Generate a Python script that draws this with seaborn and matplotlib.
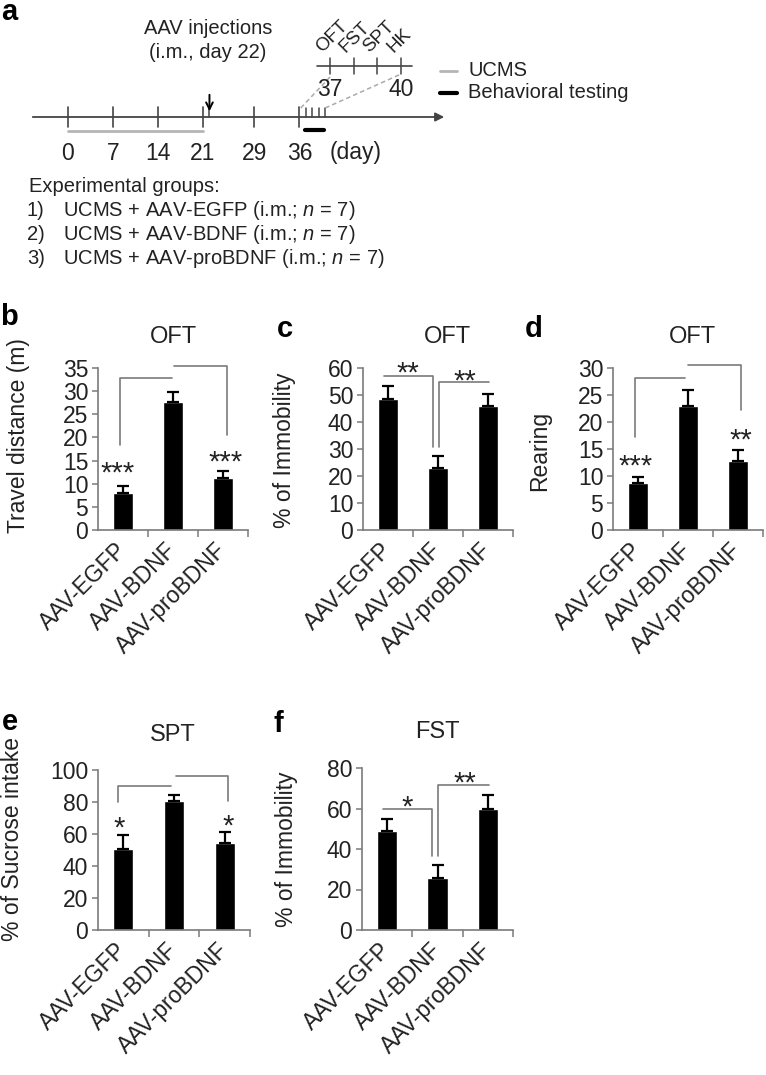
import numpy as np
import pandas as pd
import matplotlib
matplotlib.use("Agg")
import matplotlib.pyplot as plt
import seaborn as sns

# Bar data (mean and upper SEM)
groups = ["AAV-EGFP", "AAV-BDNF", "AAV-proBDNF"]
oft_distance = [7.9, 27.7, 11.3]
oft_distance_sem = [1.6, 2.1, 1.4]
oft_immobility = [48.6, 23.1, 45.8]
oft_immobility_sem = [4.8, 4.4, 4.6]
oft_rearing = [8.7, 23.0, 12.8]
oft_rearing_sem = [1.2, 3.0, 2.0]
spt_sucrose = [50.4, 80.6, 54.2]
spt_sucrose_sem = [9.0, 3.8, 6.8]
fst_immobility = [48.7, 25.9, 60.0]
fst_immobility_sem = [6.1, 6.3, 6.5]

# Timeline (panel a)
timeline_days = [0, 7, 14, 21, 29, 36]
injection_day = 22
test_days = [37, 38, 39, 40]
test_names = ["OFT", "FST", "SPT", "HK"]
ucms_days = [0, 21]
group_lines = ["UCMS + AAV-EGFP (i.m.; $n$ = 7)",
               "UCMS + AAV-BDNF (i.m.; $n$ = 7)",
               "UCMS + AAV-proBDNF (i.m.; $n$ = 7)"]

sns.set_style("ticks")
plt.rcParams["font.family"] = ["Liberation Sans", "DejaVu Sans"]
plt.rcParams["mathtext.fontset"] = "custom"
plt.rcParams["mathtext.it"] = "Liberation Sans:italic"
plt.rcParams["mathtext.rm"] = "Liberation Sans"

W, H = 766, 1075
fig = plt.figure(figsize=(W / 100, H / 100), dpi=100)
txt = "#222222"
axc = "#7a7a7a"

# overlay axes in pixel coordinates for panel a and letters
ax0 = fig.add_axes([0, 0, 1, 1], zorder=-1)
ax0.set_xlim(0, W)
ax0.set_ylim(H, 0)
ax0.axis("off")


def dx(day):
    return 68 + 6.43 * day


def ix(day):
    return 330 + (day - 37) * 23.7


tl = "#444444"
ax0.annotate("", xy=(447, 117), xytext=(30, 117),
             arrowprops=dict(arrowstyle="-|>", color=tl, lw=1.3, mutation_scale=13))
for d in timeline_days:
    ax0.plot([dx(d), dx(d)], [107, 127], color=tl, lw=1.2)
    ax0.text(dx(d), 153, str(d), ha="center", va="center", fontsize=16.5, color=txt)
ax0.text(330, 153, "(day)", ha="left", va="center", fontsize=16.5, color=txt)
for d in [injection_day] + test_days:
    ax0.plot([dx(d), dx(d)], [108, 117], color=tl, lw=1.1)
ax0.plot([dx(ucms_days[0]), dx(ucms_days[1])], [131, 131], color="#b5b5b5", lw=2)
ax0.plot([dx(test_days[0]) - 1, dx(test_days[-1]) - 1], [130, 130], color="black", lw=3)
ax0.annotate("", xy=(dx(injection_day), 114), xytext=(dx(injection_day), 92),
             arrowprops=dict(arrowstyle="->", color="black", lw=1.4, mutation_scale=12))
ax0.text(208, 28, "AAV injections", ha="center", va="center", fontsize=14.5, color=txt)
ax0.text(208, 53, "(i.m., day 22)", ha="center", va="center", fontsize=14.5, color=txt)

# inset of testing days
ax0.plot([317, 412], [66, 66], color=tl, lw=1.2)
for d, name in zip(test_days, test_names):
    ax0.plot([ix(d), ix(d)], [58, 74], color=tl, lw=1.1)
    ax0.text(ix(d) - 5, 56, name, rotation=45, ha="left", va="bottom",
             rotation_mode="anchor", fontsize=13.5, color=txt)
ax0.text(ix(37), 90, "37", ha="center", va="center", fontsize=16.5, color=txt)
ax0.text(ix(40), 90, "40", ha="center", va="center", fontsize=16.5, color=txt)
ax0.plot([dx(36.2), ix(37)], [108, 77], color="#aaaaaa", lw=1.1, ls=(0, (3, 2)))
ax0.plot([dx(40), ix(40)], [108, 74], color="#aaaaaa", lw=1.1, ls=(0, (3, 2)))

# legend
ax0.plot([440, 457], [71, 71], color="#b5b5b5", lw=2)
ax0.plot([440, 457], [93, 93], color="black", lw=3)
ax0.text(468, 71, "UCMS", ha="left", va="center", fontsize=14.5, color=txt)
ax0.text(468, 93, "Behavioral testing", ha="left", va="center", fontsize=14.5, color=txt)

# experimental groups
ax0.text(29, 187, "Experimental groups:", ha="left", va="center", fontsize=14.5, color=txt)
for i, line in enumerate(group_lines):
    y = 211 + 24 * i
    ax0.text(27, y, f"{i + 1})", ha="left", va="center", fontsize=14.5, color=txt)
    ax0.text(63, y, line, ha="left", va="center", fontsize=14.5, color=txt)

# panel letters
for letter, x, y in [("a", 1, 20), ("b", 0, 325), ("c", 277, 337), ("d", 525, 337),
                     ("e", 2, 730), ("f", 273, 732)]:
    ax0.text(x, y, letter, ha="left", va="baseline", fontsize=21, fontweight="bold",
             color="black")

panels = [
    dict(rect=(98, 368, 248, 530), vals=oft_distance, sem=oft_distance_sem, top=35, step=5,
         ylabel="Travel distance (m)", lab=(-0.53, 0.58), title="OFT", tpos=(0.5, 1.19),
         brackets=[[(-0.07, 18.3), (-0.07, 32.8), (0.97, 32.8)],
                   [(1.02, 35.5), (2.08, 35.5), (2.08, 20.6)]],
         stars=[("***", -0.1, 14.1), ("***", 2.06, 16.5)]),
    dict(rect=(363, 368, 513, 530), vals=oft_immobility, sem=oft_immobility_sem, top=60, step=10,
         ylabel="% of Immobility", lab=(-0.52, 0.49), title="OFT", tpos=(0.56, 1.19),
         brackets=[[(-0.08, 57.2), (0.9, 57.2), (0.9, 30.9)],
                   [(1.02, 30.9), (1.02, 55.0), (2.02, 55.0)]],
         stars=[("**", 0.4, 61.2), ("**", 1.54, 58.3)]),
    dict(rect=(613, 368, 763, 530), vals=oft_rearing, sem=oft_rearing_sem, top=30, step=5,
         ylabel="Rearing", lab=(-0.49, 0.49), title="OFT", tpos=(0.53, 1.19),
         brackets=[[(-0.06, 17.3), (-0.06, 28.1), (0.94, 28.1)],
                   [(1.0, 30.6), (2.06, 30.6), (2.06, 22.3)]],
         stars=[("***", -0.04, 13.3), ("**", 2.05, 18.2)]),
    dict(rect=(98, 770, 250, 930), vals=spt_sucrose, sem=spt_sucrose_sem, top=100, step=20,
         ylabel="% of Sucrose intake", lab=(-0.56, 0.57), title="SPT", tpos=(0.49, 1.22),
         brackets=[[(-0.1, 80.2), (-0.1, 90.0), (0.95, 90.0)],
                   [(1.03, 96.2), (2.06, 96.2), (2.06, 80.6)]],
         stars=[("*", -0.08, 68.7), ("*", 2.06, 69.8)]),
    dict(rect=(362, 768, 513, 930), vals=fst_immobility, sem=fst_immobility_sem, top=80, step=20,
         ylabel="% of Immobility", lab=(-0.5, 0.5), title="FST", tpos=(0.5, 1.22),
         brackets=[[(-0.08, 59.8), (0.9, 59.8), (0.9, 36.3)],
                   [(1.0, 36.3), (1.0, 71.6), (2.02, 71.6)]],
         stars=[("*", 0.4, 64.7), ("**", 1.55, 76.7)]),
]

for p in panels:
    l, t, r, b = p["rect"]
    ax = fig.add_axes([l / W, 1 - b / H, (r - l) / W, (b - t) / H])
    df = pd.DataFrame({"group": groups, "value": p["vals"]})
    sns.barplot(data=df, x="group", y="value", color="black", saturation=1,
                width=0.4, errorbar=None, ax=ax)
    ax.errorbar(np.arange(len(groups)), p["vals"], yerr=[np.zeros(len(groups)), p["sem"]],
                fmt="none", ecolor="black", elinewidth=1.6, capsize=4.5, capthick=1.6)
    ax.set_xlim(-0.5, 2.5)
    ax.set_ylim(0, p["top"])
    ax.set_yticks(np.arange(0, p["top"] + 0.1, p["step"]))
    ax.set_xticks(range(3))
    ax.set_xticks([0.5, 1.5, 2.5], minor=True)
    ax.set_xticklabels(groups)
    ax.set_xlabel("")
    ax.set_ylabel("")
    sns.despine(ax=ax)
    for s in ["left", "bottom"]:
        ax.spines[s].set_color(axc)
        ax.spines[s].set_linewidth(1.2)
    ax.tick_params(axis="y", length=4, width=1.1, color=axc, labelsize=16.5, labelcolor=txt, pad=3)
    ax.tick_params(axis="x", which="major", length=0, labelsize=16.5, labelcolor=txt, pad=12)
    ax.tick_params(axis="x", which="minor", length=5, width=1.1, color=axc)
    for lab in ax.get_xticklabels():
        lab.set_rotation(45)
        lab.set_ha("right")
        lab.set_va("center")
        lab.set_rotation_mode("anchor")
    ax.text(p["lab"][0], p["lab"][1], p["ylabel"], rotation=90, ha="center", va="center",
            fontsize=16.5, color=txt, transform=ax.transAxes)
    ax.text(p["tpos"][0], p["tpos"][1], p["title"], ha="center", va="center",
            fontsize=17, color=txt, transform=ax.transAxes)
    for br in p["brackets"]:
        xs, ys = zip(*br)
        ax.plot(xs, ys, color=axc, lw=1.2, clip_on=False)
    for s, x, y in p["stars"]:
        ax.annotate(s, xy=(x, y), xytext=(0, -12), textcoords="offset points",
                    ha="center", va="baseline", fontsize=21, color=txt, annotation_clip=False)

fig.savefig("out.png", dpi=100)
